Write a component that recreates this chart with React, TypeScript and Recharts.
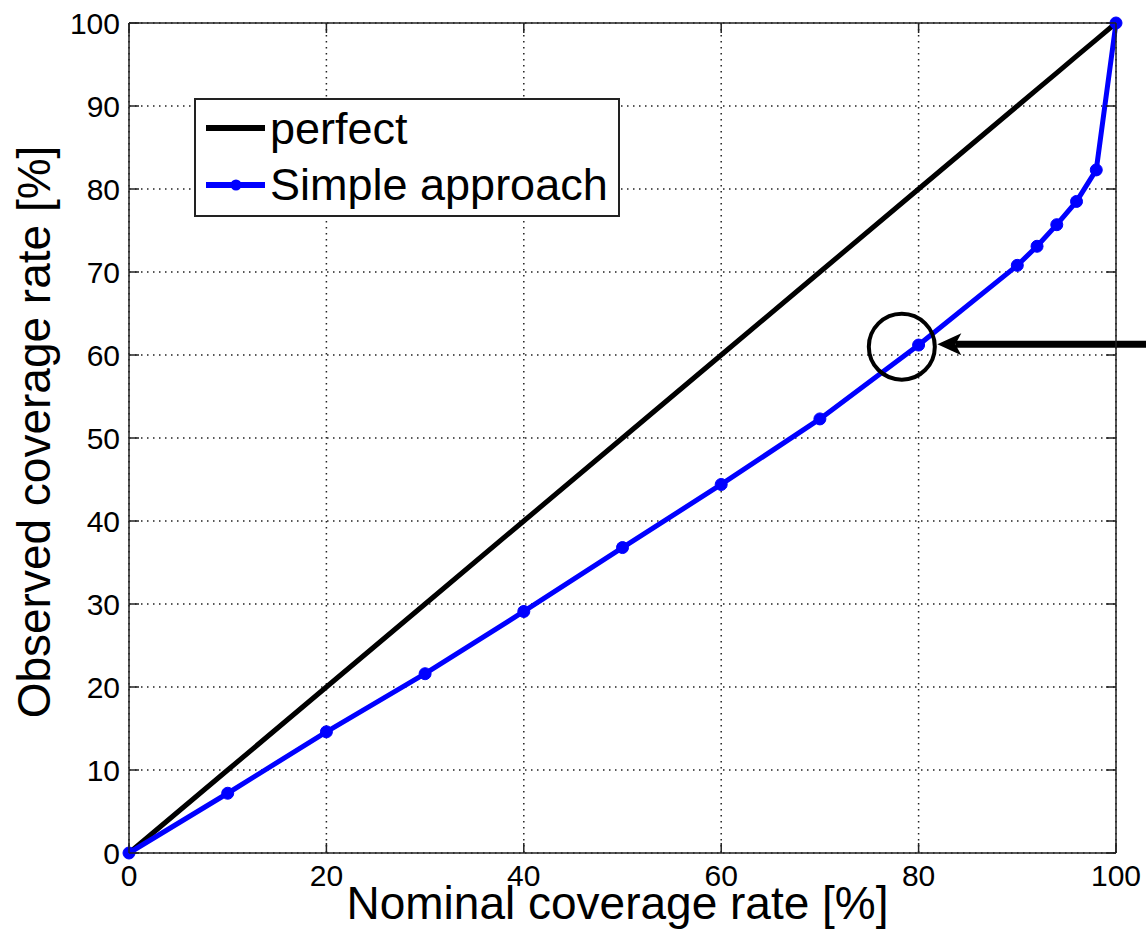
import { LineChart, Line, XAxis, YAxis, CartesianGrid, Legend, ReferenceDot, ReferenceLine } from 'recharts';

const nominal = [0, 10, 20, 30, 40, 50, 60, 70, 80, 90, 92, 94, 96, 98, 100];
const perfect = [0, 10, 20, 30, 40, 50, 60, 70, 80, 90, 92, 94, 96, 98, 100];
const simpleApproach = [0, 7.2, 14.6, 21.6, 29.1, 36.8, 44.4, 52.3, 61.2, 70.8, 73.1, 75.7, 78.5, 82.3, 100];

const xTicks = [0, 20, 40, 60, 80, 100];
const yTicks = [0, 10, 20, 30, 40, 50, 60, 70, 80, 90, 100];

// highlighted point and the arrow pointing at it
const circleAt = { x: 78.3, y: 61 };
const arrowFrom = { x: 103.2, y: 61.3 };
const arrowTo = { x: 81.9, y: 61.3 };

const data = nominal.map((n, i) => ({ nominal: n, perfect: perfect[i], simple: simpleApproach[i] }));

const FONT = '"Liberation Sans", Arial, sans-serif';
const AXIS = '#222';

// ticks point inward, like a boxed plot
const BottomTick = ({ x, y, payload }: any) => (
  <g>
    <line x1={x} x2={x} y1={y} y2={y - 10} stroke={AXIS} strokeWidth={1.5} />
    <text x={x} y={y + 33} textAnchor="middle" fontSize={30} fontFamily={FONT} fill="#000">
      {payload.value}
    </text>
  </g>
);

const TopTick = ({ x, y }: any) => <line x1={x} x2={x} y1={y} y2={y + 10} stroke={AXIS} strokeWidth={1.5} />;

const LeftTick = ({ x, y, payload }: any) => (
  <g>
    <line x1={x} x2={x + 10} y1={y} y2={y} stroke={AXIS} strokeWidth={1.5} />
    <text x={x - 9} y={y + 11} textAnchor="end" fontSize={30} fontFamily={FONT} fill="#000">
      {payload.value}
    </text>
  </g>
);

const RightTick = ({ x, y }: any) => <line x1={x - 10} x2={x} y1={y} y2={y} stroke={AXIS} strokeWidth={1.5} />;

const YLabel = ({ viewBox }: any) => {
  const x = viewBox.x + 50;
  const y = viewBox.y + viewBox.height / 2 - 6;
  return (
    <text x={x} y={y} transform={`rotate(-90, ${x}, ${y})`} textAnchor="middle" fontSize={46} fontFamily={FONT} fill="#000">
      Observed coverage rate [%]
    </text>
  );
};

const XLabel = ({ viewBox }: any) => {
  const x = viewBox.x + viewBox.width / 2 - 5;
  const y = viewBox.y + 66;
  return (
    <text x={x} y={y} textAnchor="middle" fontSize={46} fontFamily={FONT} fill="#000">
      Nominal coverage rate [%]
    </text>
  );
};

const Arrow = (p: any) => {
  const { x1, y1, x2, y2 } = p;
  const tipX = Math.min(x1, x2);
  const tailX = Math.max(x1, x2);
  const y = (y1 + y2) / 2;
  return (
    <g>
      <line x1={tailX} x2={tipX + 18} y1={y} y2={y} stroke="#000" strokeWidth={7} />
      <polygon points={`${tipX},${y} ${tipX + 24},${y - 11} ${tipX + 18},${y} ${tipX + 24},${y + 11}`} fill="#000" />
    </g>
  );
};

const LegendBox = () => (
  <svg width={426} height={120} style={{ display: 'block' }}>
    <rect x={1} y={1} width={424} height={117} fill="#fff" stroke="#222" strokeWidth={2} />
    <line x1={12} x2={71} y1={30} y2={30} stroke="#000" strokeWidth={6} />
    <text x={76} y={46} fontSize={45} fontFamily={FONT} fill="#000">perfect</text>
    <line x1={12} x2={71} y1={87} y2={87} stroke="#0000ff" strokeWidth={6} />
    <circle cx={42} cy={87} r={5.5} fill="#0000ff" />
    <text x={76} y={102} fontSize={45} fontFamily={FONT} fill="#000">Simple approach</text>
  </svg>
);

export default function App() {
  return (
    <div style={{ position: 'absolute', left: 0, top: 0, background: '#fff' }}>
      <LineChart width={1146} height={943} data={data} margin={{ top: 22, right: 29, bottom: 0, left: 0 }}>
        <CartesianGrid stroke="#222" strokeWidth={1.5} strokeDasharray="1.5 4.5" />
        <XAxis
          dataKey="nominal"
          type="number"
          domain={[0, 100]}
          ticks={xTicks}
          interval={0}
          height={90}
          tickSize={0}
          tickMargin={0}
          tickLine={false}
          tick={<BottomTick />}
          axisLine={{ stroke: AXIS, strokeWidth: 1.5 }}
          label={<XLabel />}
        />
        <XAxis
          xAxisId="top"
          dataKey="nominal"
          orientation="top"
          type="number"
          domain={[0, 100]}
          allowDataOverflow
          ticks={xTicks}
          interval={0}
          height={1}
          tickSize={0}
          tickMargin={0}
          tickLine={false}
          tick={<TopTick />}
          axisLine={{ stroke: AXIS, strokeWidth: 1.5 }}
        />
        <YAxis
          type="number"
          domain={[0, 100]}
          ticks={yTicks}
          interval={0}
          width={129}
          tickSize={0}
          tickMargin={0}
          tickLine={false}
          tick={<LeftTick />}
          axisLine={{ stroke: AXIS, strokeWidth: 1.5 }}
          label={<YLabel />}
        />
        <YAxis
          yAxisId="right"
          orientation="right"
          type="number"
          domain={[0, 100]}
          allowDataOverflow
          ticks={yTicks}
          interval={0}
          width={1}
          tickSize={0}
          tickMargin={0}
          tickLine={false}
          tick={<RightTick />}
          axisLine={{ stroke: AXIS, strokeWidth: 1.5 }}
        />
        <Line dataKey="perfect" stroke="#000" strokeWidth={5} dot={false} isAnimationActive={false} />
        <Line
          dataKey="simple"
          stroke="#0000ff"
          strokeWidth={5}
          dot={{ r: 6, fill: '#0000ff', stroke: '#0000ff', strokeWidth: 1 }}
          isAnimationActive={false}
        />
        <ReferenceDot x={circleAt.x} y={circleAt.y} r={33} fill="none" stroke="#000" strokeWidth={4} ifOverflow="visible" />
        <ReferenceLine segment={[arrowFrom, arrowTo]} ifOverflow="visible" shape={<Arrow />} />
        <Legend
          layout="horizontal"
          verticalAlign="middle"
          align="center"
          content={<LegendBox />}
          wrapperStyle={{ left: 194, top: 98, width: 426, height: 120 }}
        />
      </LineChart>
    </div>
  );
}
